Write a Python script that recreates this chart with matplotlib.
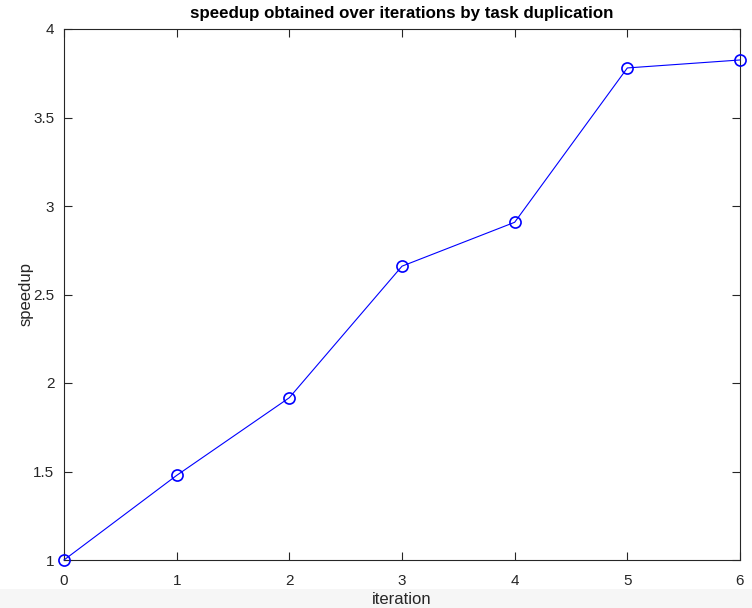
import matplotlib
matplotlib.use("Agg")
import matplotlib.pyplot as plt
from matplotlib.patches import Rectangle

iterations = [0, 1, 2, 3, 4, 5, 6]
speedup = [1.0, 1.478, 1.917, 2.66, 2.908, 3.78, 3.825]
x_ticks = [0, 1, 2, 3, 4, 5, 6]
y_ticks = [1, 1.5, 2, 2.5, 3, 3.5, 4]
y_tick_labels = ["1", "1.5", "2", "2.5", "3", "3.5", "4"]

plt.rcParams['font.family'] = ['Liberation Sans', 'DejaVu Sans']

fig = plt.figure(figsize=(7.52, 6.08), dpi=100)
ax = fig.add_axes([64/752, 1-560/608, (740-64)/752, (560-29)/608])
ax.set_zorder(2)
# faint grey band at the bottom of the reference image
fig.patches.append(Rectangle((0, 0), 1, 19/608, transform=fig.transFigure,
                             facecolor='#f6f6f6', edgecolor='none', zorder=-5))

ax.plot(iterations, speedup, color='#0000ff', linewidth=0.8, marker='o',
        markersize=8, markerfacecolor='none', markeredgecolor='#0000ff',
        markeredgewidth=1.2, clip_on=False, zorder=3)

ax.set_xlim(0, 6)
ax.set_ylim(1, 4)
ax.set_xticks(x_ticks)
ax.set_yticks(y_ticks)
ax.set_yticklabels(y_tick_labels)
ax.tick_params(direction='in', top=True, right=True, length=6, width=0.8,
               labelsize=11, colors='#262626')
ax.tick_params(axis='x', pad=10)
ax.tick_params(axis='y', pad=7)
for s in ax.spines.values():
    s.set_color('#262626')
    s.set_linewidth(0.8)

ax.set_xlabel('iteration', fontsize=12, color='#262626', labelpad=3)
ax.set_ylabel('speedup', fontsize=12, color='#262626', labelpad=0)
ax.set_title('speedup obtained over iterations by task duplication',
             fontsize=12.2, fontweight='bold', pad=8)

fig.savefig('out.png', dpi=100)
